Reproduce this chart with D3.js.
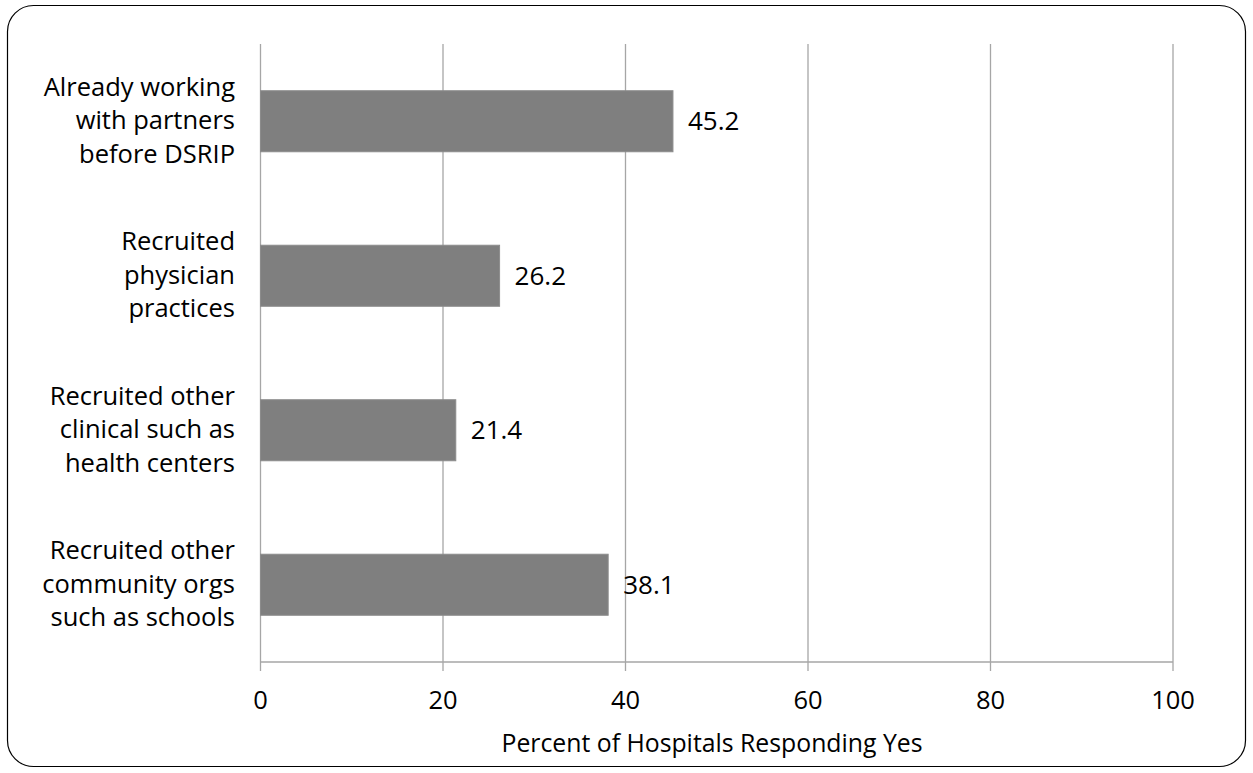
<!DOCTYPE html>
<html><head><meta charset="utf-8">
<script src="https://cdn.jsdelivr.net/npm/d3@7"></script>
<style>body{margin:0;background:#fff;} svg{display:block;} text{font-family:"Open Sans",sans-serif;fill:#000;}</style>
</head><body><svg id="c" width="1253" height="773"></svg>
<script>
const categories = [
  ["Already working","with partners","before DSRIP"],
  ["Recruited","physician","practices"],
  ["Recruited other","clinical such as","health centers"],
  ["Recruited other","community orgs","such as schools"]
];
const values = [45.2, 26.2, 21.4, 38.1];
const xTicks = [0, 20, 40, 60, 80, 100];
const axisTitle = "Percent of Hospitals Responding Yes";

const svg = d3.select("#c");
svg.append("rect").attr("x",7.5).attr("y",5.5).attr("width",1238).attr("height",761)
  .attr("rx",26).attr("ry",26).attr("fill","#fff").attr("stroke","#000").attr("stroke-width",1.2);

const x = d3.scaleLinear().domain([0,100]).range([260.5,1173]);
const y = d3.scaleBand().domain(d3.range(categories.length)).range([44,662]).paddingInner(0.605).paddingOuter(0.3025);

const g = svg.append("g");
g.selectAll("line.grid").data(xTicks).join("line")
  .attr("x1",d=>x(d)).attr("x2",d=>x(d)).attr("y1",44).attr("y2",671)
  .attr("stroke","#a6a6a6").attr("stroke-width",1.3);
g.append("line").attr("x1",x(0)).attr("x2",x(100)).attr("y1",662).attr("y2",662)
  .attr("stroke","#a6a6a6").attr("stroke-width",1.3);
g.selectAll("text.tick").data(xTicks).join("text")
  .attr("x",d=>x(d)).attr("y",709).attr("text-anchor","middle")
  .style("font-size","25.5px").text(d=>d);
g.selectAll("rect.bar").data(values).join("rect")
  .attr("x",x(0)).attr("y",(d,i)=>y(i)).attr("width",d=>x(d)-x(0)).attr("height",y.bandwidth())
  .attr("fill","#7f7f7f").attr("stroke","#8c8c8c").attr("stroke-width",1);
g.selectAll("text.val").data(values).join("text")
  .attr("x",d=>x(d)+15).attr("y",(d,i)=>y(i)+y.bandwidth()/2+9)
  .style("font-size","26px").text(d=>d.toFixed(1));
categories.forEach((lines,i)=>{
  const cy = y(i)+y.bandwidth()/2;
  const t = g.append("text").attr("text-anchor","end").style("font-size","25.5px");
  lines.forEach((ln,j)=>{
    t.append("tspan").attr("x",235).attr("y",cy+(j-1)*33.5+8).text(ln);
  });
});
g.append("text").attr("x",712).attr("y",752).attr("text-anchor","middle").style("font-size","24.8px").text(axisTitle);
</script></body></html>
